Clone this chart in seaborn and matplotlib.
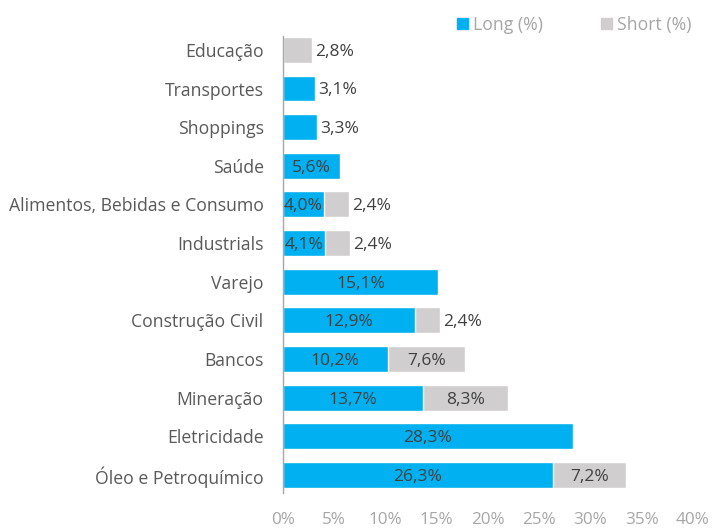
import matplotlib
matplotlib.use("Agg")
import matplotlib.pyplot as plt
import seaborn as sns
import pandas as pd
from matplotlib.patches import Patch

setores = ["Educação", "Transportes", "Shoppings", "Saúde",
           "Alimentos, Bebidas e Consumo", "Industrials", "Varejo",
           "Construção Civil", "Bancos", "Mineração", "Eletricidade",
           "Óleo e Petroquímico"]
long_pct = [0, 3.1, 3.3, 5.6, 4.0, 4.1, 15.1, 12.9, 10.2, 13.7, 28.3, 26.3]
short_pct = [2.8, 0, 0, 0, 2.4, 2.4, 0, 2.4, 7.6, 8.3, 0, 7.2]
xticks = [0, 5, 10, 15, 20, 25, 30, 35, 40]

azul = "#00B0F0"
cinza = "#D0CECE"
texto = "#404040"

df = pd.DataFrame({"setor": setores, "long": long_pct, "short": short_pct})
df["total"] = df["long"] + df["short"]

sns.set_style("white")
plt.rcParams["font.family"] = ["Open Sans", "DejaVu Sans"]

fig = plt.figure(figsize=(7.12, 5.29), dpi=100)
ax = fig.add_axes([0.3975, 0.068, 0.5757, 0.864])

sns.barplot(data=df, y="setor", x="total", color=cinza, width=0.67,
            saturation=1, ax=ax, orient="h")
sns.barplot(data=df, y="setor", x="long", color=azul, width=0.67,
            saturation=1, ax=ax, orient="h")

def fmt(v):
    return f"{v:.1f}".replace(".", ",") + "%"

fs = 12.5
for i, (l, s) in enumerate(zip(long_pct, short_pct)):
    if l > 0:
        if l >= 4:
            ax.text(l / 2, i + 0.05, fmt(l), ha="center", va="center", fontsize=fs, color=texto)
        else:
            ax.text(l + 0.3, i + 0.05, fmt(l), ha="left", va="center", fontsize=fs, color=texto)
    if s > 0:
        if s >= 5:
            ax.text(l + s / 2, i + 0.05, fmt(s), ha="center", va="center", fontsize=fs, color=texto)
        else:
            ax.text(l + s + 0.3, i + 0.05, fmt(s), ha="left", va="center", fontsize=fs, color=texto)

ax.set_xlim(0, 40)
ax.set_ylim(11.47, -0.36)
ax.set_xticks(xticks)
ax.set_xticklabels([f"{t}%" for t in xticks], color="#A6A6A6", fontsize=12.3)
ax.tick_params(axis="x", length=0, pad=13.5)
ax.tick_params(axis="y", length=0, pad=14, labelsize=12.7, labelcolor="#595959")
ax.set_xlabel("")
ax.set_ylabel("")
for sp in ["top", "right", "bottom"]:
    ax.spines[sp].set_visible(False)
ax.spines["left"].set_color("#A6A6A6")
ax.spines["left"].set_linewidth(1)

handles = [Patch(color=azul, label="Long (%)"), Patch(color=cinza, label="Short (%)")]
fig.legend(handles=handles, loc="center", bbox_to_anchor=(0.807, 0.953), ncol=2,
           frameon=False, handlelength=0.6, handleheight=0.6, handletextpad=0.3,
           columnspacing=3.3, fontsize=12.7, labelcolor="#A6A6A6")

fig.savefig("out.png", dpi=100)
